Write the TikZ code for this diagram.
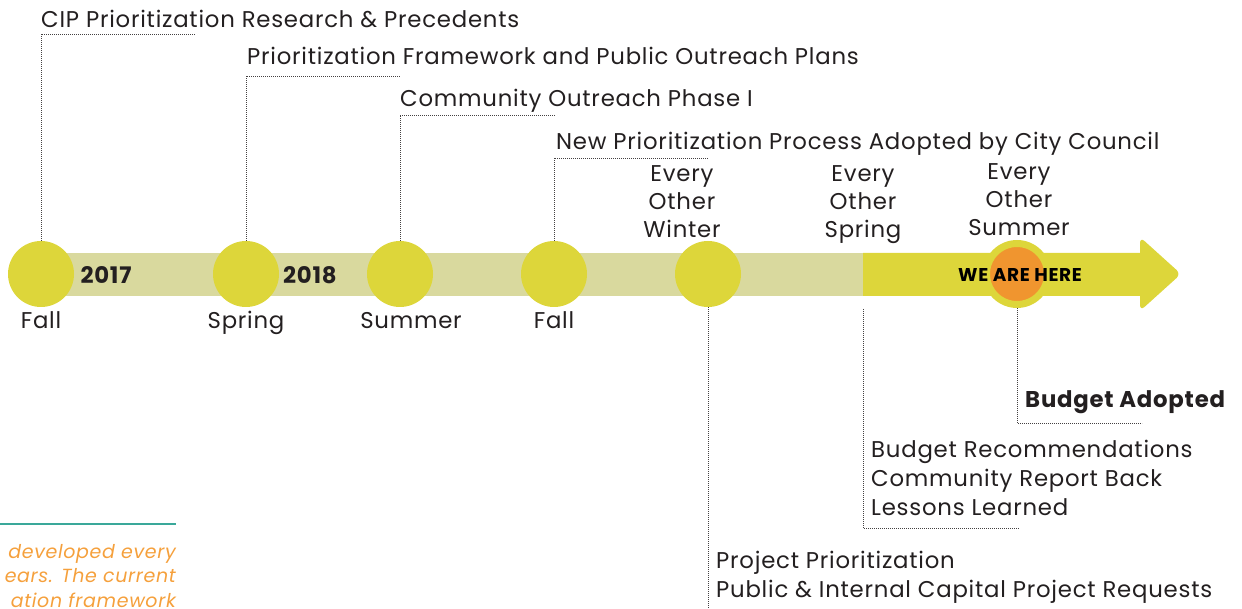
\documentclass[tikz,border=0pt]{standalone}
\usepackage{fontspec}
\setmainfont{Poppins}[LetterSpace=3.4]
\usepackage{tikz}
\usetikzlibrary{positioning}
\definecolor{paleband}{HTML}{D9D99E}
\definecolor{limefill}{HTML}{DDD63A}
\definecolor{herefill}{HTML}{F0952F}
\definecolor{ink}{HTML}{231F20}
\definecolor{tealline}{HTML}{3AA89A}
\definecolor{notetext}{HTML}{F5A03C}
\tikzset{
    mynode/.style = {circle, fill=limefill, minimum size=66pt, inner sep=0pt},
    herenode/.style = {circle, fill=herefill, draw=limefill, line width=7pt, minimum size=61pt, inner sep=0pt},
    lbl/.style = {anchor=base west, inner sep=0pt, align=left, text=ink, font=\fontsize{22.8}{29}\selectfont},
    seas/.style = {anchor=base, inner sep=0pt, text=ink, font=\fontsize{22.8}{29}\selectfont},
    oft/.style = {anchor=base, inner sep=0pt, align=center, text=ink, font=\fontsize{22.8}{28}\selectfont},
    year/.style = {anchor=base, inner sep=0pt, text=ink, font=\bfseries\fontsize{22.8}{29}\selectfont},
    herelbl/.style = {anchor=base, inner sep=0pt, text=black, font=\bfseries\fontsize{18.5}{18.5}\selectfont},
    note/.style = {anchor=base east, inner sep=0pt, align=right, text=notetext, font=\itshape\fontsize{19}{24.5}\selectfont},
    leader/.style = {ink!85, line width=0.9pt, dash pattern=on 0.9pt off 1.1pt},
}
\begin{document}
\begin{tikzpicture}[x=1pt, y=-1pt]
\useasboundingbox (0,0) rectangle (1242,609);
% band and arrow
\fill[paleband] (41,253) rectangle (864,296);
\fill[limefill] (863,253) -- (1140,253) [rounded corners=6pt] -- (1140,237) -- (1181,274) -- (1140,311) [sharp corners] -- (1140,296) -- (863,296) -- cycle;
%
\node[mynode] at (41,274) (f17) {};
\node[mynode] at (246,274) (s18) {};
\node[mynode] at (400,274) (u18) {};
\node[mynode] at (554,274) (f18) {};
\node[mynode] at (708,274) (win) {};
\node[herenode] at (1017,274) (here) {};
\coordinate (spr) at (863,309);
%
\node[year] at (106,284) (y17) {2017};
\node[year] at (310,284) (y18) {2018};
\node[herelbl] at (1020,282) (wah) {WE ARE HERE};
%
\node[seas] at (41,329) (sf17) {Fall};
\node[seas] at (246,329) (ss18) {Spring};
\node[seas] at (411,329) (su18) {Summer};
\node[seas] at (554,329) (sf18) {Fall};
\node[oft] at (682,238) (ow) {Every\\Other\\Winter};
\node[oft] at (863,238) (osp) {Every\\Other\\Spring};
\node[oft] at (1019,236) (osu) {Every\\Other\\Summer};
%
\node[lbl] at (41,28) (m1) {CIP Prioritization Research \& Precedents};
\node[lbl] at (247,65) (m2) {Prioritization Framework and Public Outreach Plans};
\node[lbl] at (400,107) (m3) {Community Outreach Phase I};
\node[lbl] at (556,150) (m4) {New Prioritization Process Adopted by City Council};
\coordinate (e1) at (195,34);
\coordinate (e2) at (401,76);
\coordinate (e3) at (555,115);
\coordinate (e4) at (708,158);
\draw[leader] (f17) |- (e1);
\draw[leader] (s18) |- (e2);
\draw[leader] (u18) |- (e3);
\draw[leader] (f18) |- (e4);
%
\node[lbl] at (716,597) (r1) {Project Prioritization\\Public \& Internal Capital Project Requests};
\node[lbl] at (871,515) (r2) {Budget Recommendations\\Community Report Back\\Lessons Learned};
\node[lbl, font=\bfseries\fontsize{22.8}{29}\selectfont] at (1025,407) (r3) {Budget Adopted};
\coordinate (b1) at (708,609);
\coordinate (b2) at (1019,528);
\coordinate (b3) at (1142,423);
\draw[leader] (win) -- (b1);
\draw[leader] (spr) |- (b2);
\draw[leader] (here) |- (b3);
%
\coordinate (t1) at (0,524);
\coordinate (t2) at (176,524);
\draw[tealline, line width=1.2pt] (t1) -- (t2);
\node[note] at (176,607) (n1) {developed every\\ears. The current\\ation framework};
\end{tikzpicture}
\end{document}
